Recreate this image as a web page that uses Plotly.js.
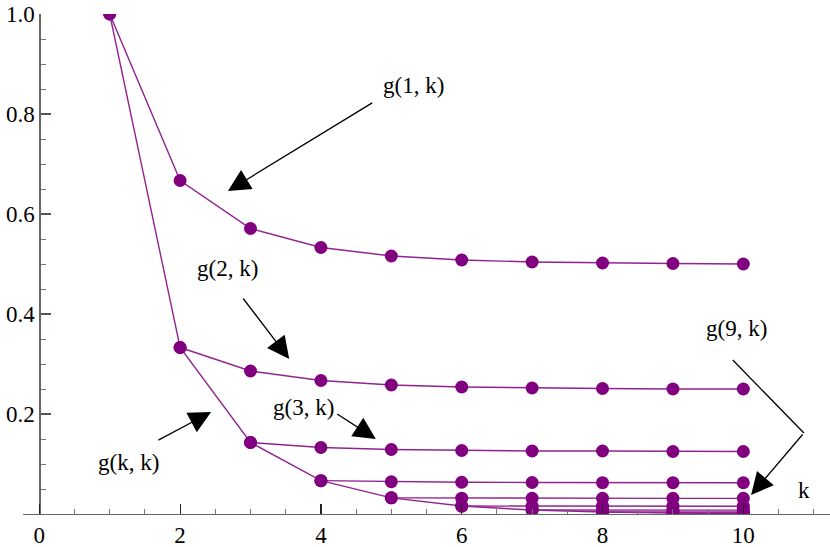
<!DOCTYPE html>
<html>
<head>
<meta charset="utf-8">
<script src="https://cdn.plot.ly/plotly-3.0.1.min.js"></script>
<style>html,body{margin:0;padding:0;background:#fff;}#chart{width:830px;height:547px;}</style>
</head>
<body>
<div id="chart"></div>
<script>
// k values and series
const k1 = [1, 2, 3, 4, 5, 6, 7, 8, 9, 10];
const g1 = [1.0, 0.667, 0.571, 0.533, 0.516, 0.508, 0.504, 0.502, 0.501, 0.500];
const k2 = [2, 3, 4, 5, 6, 7, 8, 9, 10];
const g2 = [0.333, 0.286, 0.267, 0.258, 0.254, 0.252, 0.251, 0.250, 0.250];
const k3 = [3, 4, 5, 6, 7, 8, 9, 10];
const g3 = [0.143, 0.133, 0.129, 0.127, 0.126, 0.126, 0.125, 0.125];
const k4 = [4, 5, 6, 7, 8, 9, 10];
const g4 = [0.0667, 0.0645, 0.0635, 0.0630, 0.0627, 0.0626, 0.0625];
const k5 = [5, 6, 7, 8, 9, 10];
const g5 = [0.0323, 0.0317, 0.0315, 0.0314, 0.0313, 0.0313];
const k6 = [6, 7, 8, 9, 10];
const g6 = [0.0159, 0.0157, 0.0157, 0.0157, 0.0156];
const k7 = [7, 8, 9, 10];
const g7 = [0.0079, 0.0078, 0.0078, 0.0078];
const k8 = [8, 9, 10];
const g8 = [0.0039, 0.0039, 0.0039];
const k9 = [9, 10];
const g9 = [0.0020, 0.0020];
const k10 = [10];
const g10 = [0.0010];
const kDiag = [1, 2, 3, 4, 5, 6, 7, 8, 9, 10];
const gDiag = [1.0, 0.333, 0.143, 0.0667, 0.0323, 0.0159, 0.0079, 0.0039, 0.0020, 0.0010];

const xTicks = [0, 2, 4, 6, 8, 10];
const xTickText = ["0", "2", "4", "6", "8", "10"];
const yTicks = [0.2, 0.4, 0.6, 0.8, 1.0];
const yTickText = ["0.2", "0.4", "0.6", "0.8", "1.0"];

const seriesX = [k1, k2, k3, k4, k5, k6, k7, k8, k9, k10, kDiag];
const seriesY = [g1, g2, g3, g4, g5, g6, g7, g8, g9, g10, gDiag];

const lineColor = 'rgb(145,35,145)';
const markerColor = '#800080';

const traces = seriesX.map((xs, i) => ({
  x: xs, y: seriesY[i],
  type: 'scatter',
  mode: 'lines+markers',
  line: {color: lineColor, width: 1.4},
  marker: {color: markerColor, size: 13},
  showlegend: false
}));

const FONT = {family: 'Liberation Serif', size: 23, color: 'black'};
const txt = (t, x, y) => ({text: t, x: x, y: y, xref: 'x', yref: 'y', showarrow: false, font: FONT});
const arr = (ax, ay, x, y) => ({text: '', x: x, y: y, ax: ax, ay: ay, xref: 'x', yref: 'y',
  axref: 'x', ayref: 'y', showarrow: true, arrowhead: 2, arrowsize: 3.4, arrowwidth: 1.3,
  arrowcolor: 'black', standoff: 0, startstandoff: 0});

const layout = {
  width: 830, height: 547,
  margin: {l: 23, r: 0, t: 14, b: 33, pad: 0},
  showlegend: false,
  xaxis: {
    range: [-0.2315, 11.231], showgrid: false, zeroline: false,
    showline: true, linecolor: '#666', linewidth: 1.2,
    ticks: 'inside', ticklen: 10, tickwidth: 1.2, tickcolor: '#222',
    tickmode: 'array', tickvals: xTicks, ticktext: xTickText,
    tickfont: FONT,
    minor: {tickmode: 'linear', tick0: 0, dtick: 0.5, ticks: 'inside', ticklen: 5, tickwidth: 1, tickcolor: '#777', showgrid: false}
  },
  yaxis: {
    range: [0, 1.0], showgrid: false, zeroline: false,
    anchor: 'free', position: 0.0202,
    showline: true, linecolor: '#666', linewidth: 1.2,
    ticks: 'inside', ticklen: 10, tickwidth: 1.2, tickcolor: '#555',
    tickmode: 'array', tickvals: yTicks, ticktext: yTickText,
    tickfont: FONT,
    minor: {tickmode: 'linear', tick0: 0, dtick: 0.05, ticks: 'inside', ticklen: 5, tickwidth: 1, tickcolor: '#777', showgrid: false}
  },
  annotations: [
    txt('g(1, k)', 5.31, 0.858),
    arr(4.75, 0.824, 2.68, 0.646),
    txt('g(2, k)', 2.67, 0.492),
    arr(2.88, 0.434, 3.55, 0.31),
    txt('g(3, k)', 3.75, 0.214),
    arr(4.21, 0.202, 4.78, 0.15),
    txt('g(k, k)', 1.26, 0.104),
    arr(1.67, 0.146, 2.44, 0.204),
    txt('g(9, k)', 9.9, 0.372),
    arr(10.86, 0.162, 10.11, 0.038),
    txt('k', 10.86, 0.048)
  ],
  shapes: [
    {type: 'line', xref: 'x', yref: 'y', x0: 9.85, y0: 0.308, x1: 10.86, y1: 0.162,
     line: {color: 'black', width: 1.3}}
  ]
};

Plotly.newPlot('chart', traces, layout, {displayModeBar: false, staticPlot: true});
</script>
</body>
</html>
